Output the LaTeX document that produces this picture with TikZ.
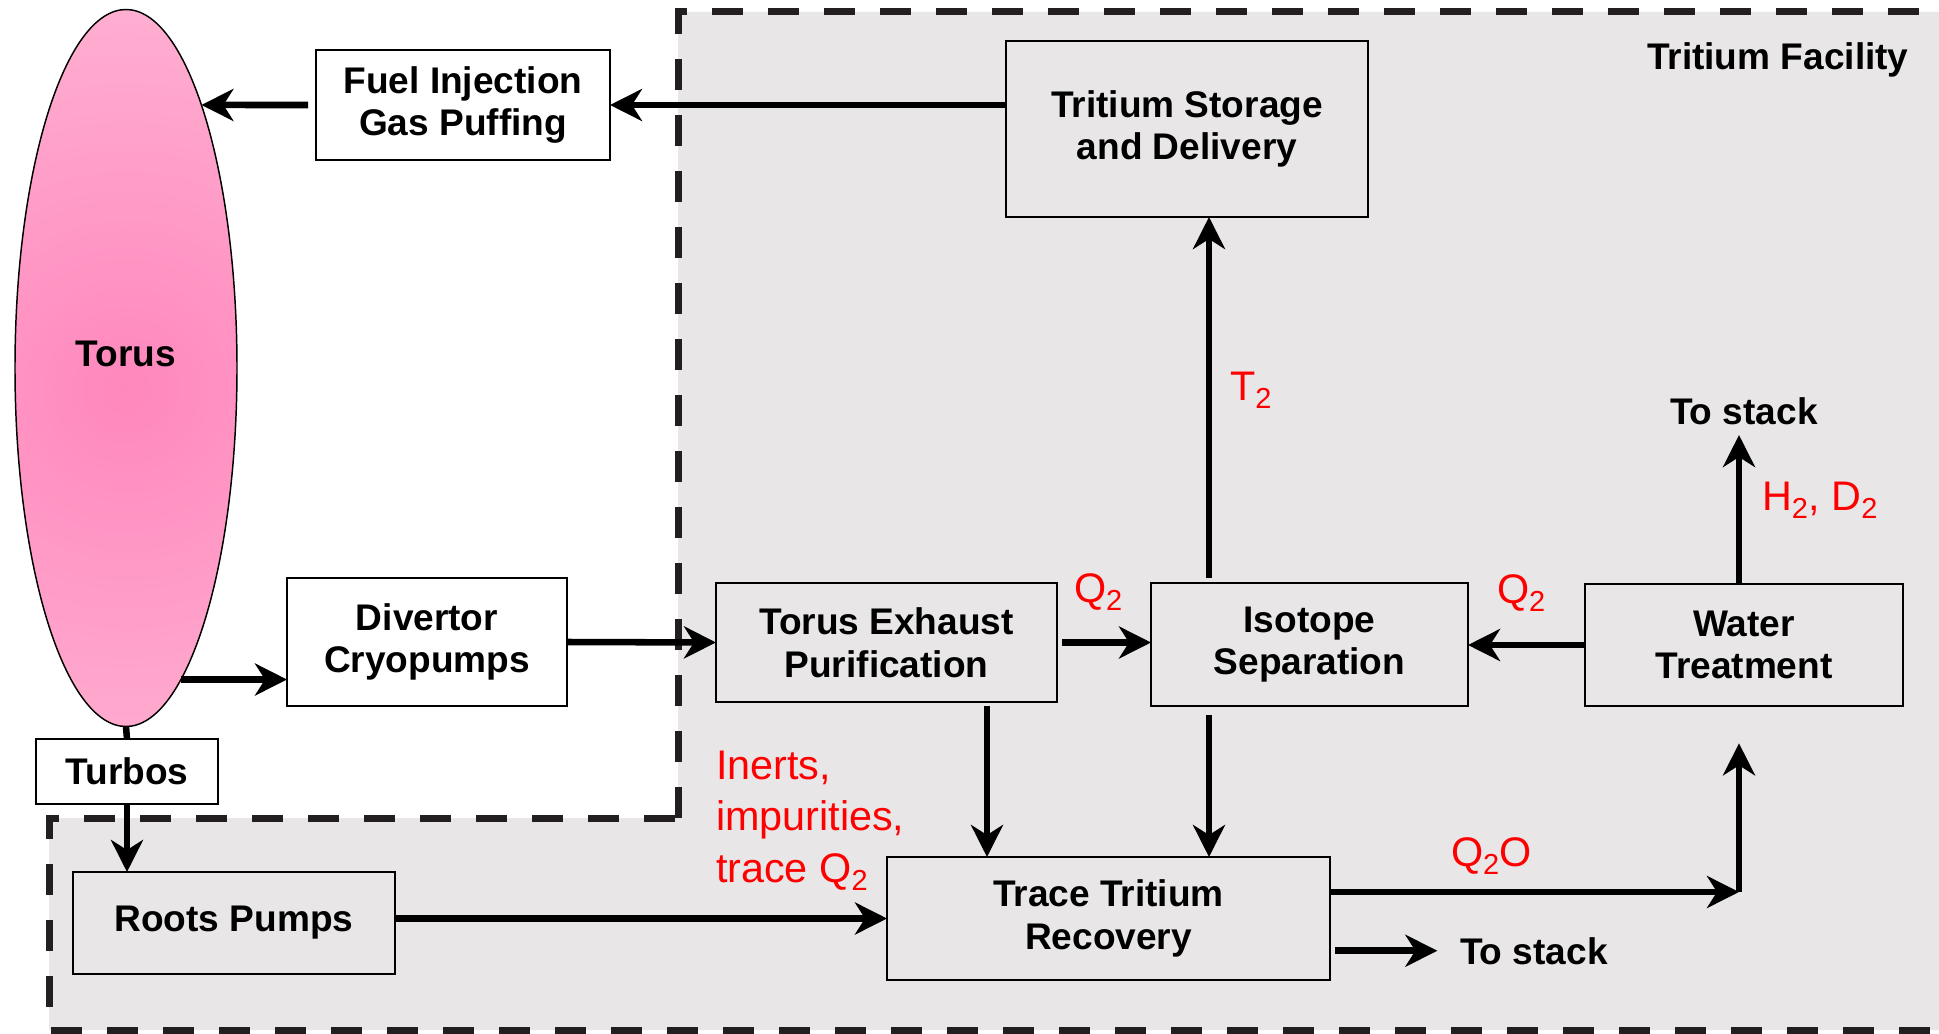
\documentclass[tikz,border=0pt]{standalone}
\usepackage{fontspec}
\setmainfont{Liberation Sans}
\usepackage{xcolor}
\usepackage{tikz}
\usetikzlibrary{arrows.meta,shapes.geometric}

\definecolor{facgrey}{HTML}{E8E6E7}
\definecolor{dashgrey}{HTML}{231F20}
\definecolor{torusin}{HTML}{FF87BC}
\definecolor{torusout}{HTML}{FFD9E8}
\pgfdeclareradialshading{torusglow}{\pgfpoint{0bp}{0bp}}{color(0bp)=(torusin); color(50bp)=(torusout)}

\begin{document}
\begin{tikzpicture}[x=0.75pt,y=0.75pt,yscale=-1,xscale=1,
  blk/.style={draw, line width=1.5pt, align=center, inner sep=0pt, outer sep=0pt, font=\bfseries\fontsize{27.8}{32}\selectfont},
  lbl/.style={inner sep=0pt, outer sep=0pt, font=\bfseries\fontsize{27.8}{32}\selectfont},
  redlbl/.style={inner sep=0pt, outer sep=0pt, text=red, align=left, font=\fontsize{31}{38.5}\selectfont},
  flow/.style={line width=4.9pt, -{Stealth[length=24pt,width=24pt,inset=7.5pt]}},
  torusbody/.style={ellipse, draw, line width=1.1pt, minimum width=166.5pt, minimum height=537.75pt, inner sep=0pt, outer sep=0pt, text depth=22pt, font=\bfseries\fontsize{27.8}{32}\selectfont}]
\useasboundingbox (0,0) rectangle (1939,1034);

\draw[fill=facgrey, draw=dashgrey, line width=5.25pt, dash pattern=on 23pt off 19pt] (678,818) -- (678,12) -- (1960,12) -- (1960,1030) -- (49,1030) -- (49,818) -- cycle;

\begin{scope}
\clip (126,368) ellipse [x radius=111, y radius=358.5];
\shade[shading=torusglow] (126,390) circle [radius=400];
\end{scope}
\node[torusbody] (torus) at (126,368) {Torus};

\node[blk, minimum width=220.5pt, minimum height=82.5pt] (fuel) at (463,105) {Fuel Injection\\Gas Puffing};
\node[blk, minimum width=271.5pt, minimum height=132pt] (storage) at (1187,129) {Tritium Storage\\and Delivery};
\node[blk, minimum width=210pt, minimum height=96pt] (divertor) at (427,642) {Divertor\\Cryopumps};
\node[blk, minimum width=136.5pt, minimum height=48.75pt] (turbos) at (127,771.5) {Turbos};
\node[blk, minimum width=241.5pt, minimum height=76.5pt] (roots) at (234,923) {Roots Pumps};
\node[blk, minimum width=255.75pt, minimum height=89.25pt] (exhaust) at (886.5,642.5) {Torus Exhaust\\Purification};
\node[blk, minimum width=237.75pt, minimum height=92.25pt] (isotope) at (1309.5,644.5) {Isotope\\Separation};
\node[blk, minimum width=238.5pt, minimum height=91.5pt] (water) at (1744,645) {Water\\Treatment};
\node[blk, minimum width=332.25pt, minimum height=92.25pt] (trace) at (1108.5,918.5) {Trace Tritium\\Recovery};

\node[lbl, anchor=base west] (facility) at (1647,70) {Tritium Facility};
\node[lbl, anchor=base west] (stackup) at (1670,424) {To stack};
\node[lbl, anchor=base west] (stackdn) at (1460,964) {To stack};

\node[redlbl, anchor=base west] (t2) at (1230,400) {T\textsubscript{2}};
\node[redlbl, anchor=base west] (hd) at (1762,510) {H\textsubscript{2}, D\textsubscript{2}};
\node[redlbl, anchor=base west] (q2a) at (1074,602) {Q\textsubscript{2}};
\node[redlbl, anchor=base west] (q2b) at (1497,603) {Q\textsubscript{2}};
\node[redlbl, anchor=base west] (q2o) at (1451,866) {Q\textsubscript{2}O};
\node[redlbl, anchor=north west] (inerts) at (716,751) {Inerts,\\impurities,\\trace Q\textsubscript{2}};

\coordinate (xT) at (1209,0);
\coordinate (xP) at (987,0);
\coordinate (qcorner) at (1739,892);

\draw[flow, shorten <=6pt] (fuel.west) -- (torus.74);
\draw[flow] (storage.west |- fuel.east) -- (fuel.east);
\draw[flow] (torus.-80) -- (torus.-80 -| divertor.west);
\draw[flow] (divertor.east) -- (exhaust.west);
\draw[flow, shorten <=4pt] (exhaust.east) -- (exhaust.east -| isotope.west);
\draw[flow] (water.west) -- (water.west -| isotope.east);
\draw[flow, shorten <=4pt] (isotope.north -| xT) -- (storage.south -| xT);
\draw[flow, shorten <=7pt] (isotope.south -| xT) -- (trace.north -| xT);
\draw[flow, shorten <=3pt] (exhaust.south -| xP) -- (trace.north -| xP);
\draw[flow] (trace.west -| roots.east) -- (trace.west);
\draw[line width=4.9pt] (torus.south) -- (turbos.north);
\draw[flow] (turbos.south) -- (turbos.south |- roots.north);
\draw[flow] (qcorner -| trace.east) -- (qcorner);
\draw[flow, shorten >=28pt] (qcorner) -- (qcorner |- water.south);
\draw[flow, shorten >=8pt] (water.north -| qcorner) -- (stackup.south -| qcorner);
\draw[flow, shorten <=4pt, shorten >=17pt] (stackdn.west -| trace.east) -- (stackdn.west);
\end{tikzpicture}
\end{document}
